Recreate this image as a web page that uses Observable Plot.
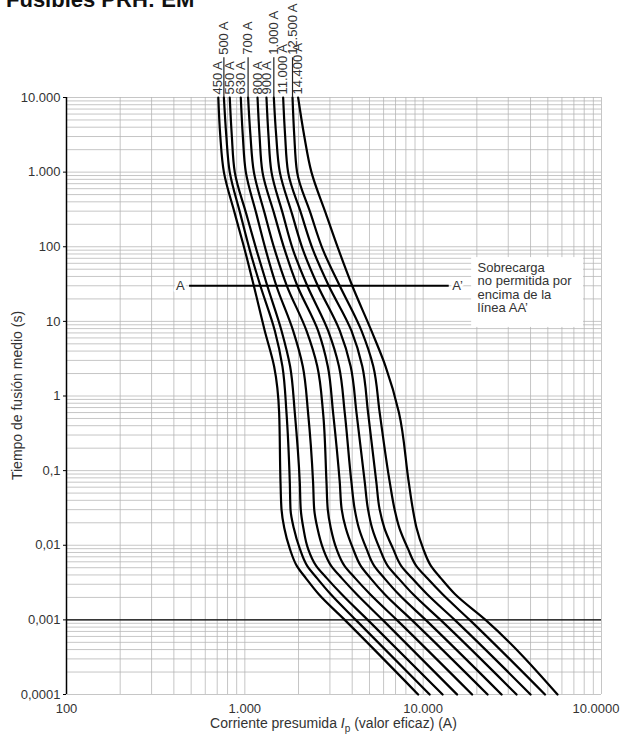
<!DOCTYPE html>
<html><head><meta charset="utf-8">
<script src="https://cdn.jsdelivr.net/npm/d3@7"></script>
<script src="https://cdn.jsdelivr.net/npm/@observablehq/plot@0.6"></script>
<style>
body{margin:0;background:#fff;}
#chart{width:620px;height:740px;overflow:hidden;}
</style></head><body><div id="chart"></div>
<script>
// ---- data ----
const chartTitle = "Fusibles PRH: EM";
const fuseLabels = ["450 A","500 A","550 A","630 A","700 A","800 A","900 A","1.000 A","11.000 A","12.500 A","14.400 A"];
const raisedLabels = ["500 A","700 A","1.000 A","12.500 A"];
// melting times (s) at which the currents below were read
const times = [10000, 3100, 1000, 280, 90, 30, 7.5, 2.5, 0.6, 0.07, 0.03, 0.017, 0.009, 0.0053, 0.0036, 0.0022, 0.001, 0.0001];
// prospective current (A) of each curve at those times
const c450  = [710, 728, 763, 878, 1000, 1123, 1293, 1459, 1557, 1585, 1606, 1664, 1787, 1956, 2203, 2598, 3631, 9377];
const c500  = [763, 787, 823, 942, 1066, 1222, 1473, 1625, 1712, 1787, 1804, 1881, 2033, 2237, 2545, 3033, 4188, 10876];
const c550  = [823, 845, 878, 1017, 1163, 1336, 1606, 1794, 1906, 2033, 2059, 2129, 2262, 2512, 2888, 3494, 4887, 12851];
const c630  = [949, 974, 1013, 1159, 1311, 1502, 1865, 2113, 2262, 2414, 2450, 2552, 2746, 3049, 3504, 4240, 5927, 15497];
const c700  = [1043, 1075, 1124, 1292, 1473, 1720, 2216, 2548, 2746, 2870, 2918, 3033, 3262, 3622, 4165, 5045, 7107, 18815];
const c800  = [1178, 1209, 1256, 1459, 1675, 1969, 2574, 2918, 3125, 3406, 3494, 3680, 4043, 4467, 5077, 6084, 8618, 22972];
const c900  = [1322, 1357, 1411, 1631, 1865, 2239, 2930, 3371, 3632, 3960, 4135, 4358, 4806, 5314, 6067, 7293, 10328, 27530];
const c1000 = [1454, 1499, 1571, 1836, 2121, 2566, 3406, 3919, 4227, 4704, 4909, 5170, 5703, 6326, 7273, 8785, 12508, 33395];
const c1100 = [1640, 1682, 1748, 2067, 2414, 2955, 3960, 4555, 4909, 5463, 5703, 6062, 6777, 7527, 8674, 10530, 15015, 40018];
const c1250 = [1851, 1893, 1963, 2337, 2746, 3404, 4508, 5250, 5703, 6495, 6920, 7359, 8215, 9146, 10557, 12851, 18227, 48200];
const c1440 = [1990, 2151, 2363, 2844, 3362, 4002, 5124, 6152, 7311, 8300, 8761, 9183, 10000, 11053, 12589, 15108, 22360, 56673];

const yTicks = [0.0001, 0.001, 0.01, 0.1, 1, 10, 100, 1000, 10000];
const yTickLabels = ["0,0001","0,001","0,01","0,1","1","10","100","1.000","10.000"];
const xTicks = [100, 1000, 10000, 100000];
const xTickLabels = ["100","1.000","10.000","10.0000"];
const yTitle = "Tiempo de fusión medio (s)";
const xTitleParts = ["Corriente presumida ", "I", "p", " (valor eficaz) (A)"];

// AA' overload line and note
const aaLine = {t: 30, from: 490, to: 14000};
const limitTime = 0.001;
const noteText = "Sobrecarga\nno permitida por\nencima de la\nlínea AA’";
const noteAnchor = {x: 20200, t: 62};
const noteBox = {x1: 18700, x2: 79300, t1: 8.3, t2: 71.6};
const labelBaseTime = 10000, raisedLabelTime = 34000;

// ---- build ----
const series = [c450, c500, c550, c630, c700, c800, c900, c1000, c1100, c1250, c1440];
const rows = series.flatMap((arr, k) => arr.map((I, i) => ({fuse: fuseLabels[k], I, t: times[i]})));
const labels = fuseLabels.map((f, k) => ({f, I: series[k][0], raised: raisedLabels.includes(f)}));

const decadesX = [100, 1000, 10000];
const decadesY = [0.0001, 0.001, 0.01, 0.1, 1, 10, 100, 1000];
const mult = [1,2,3,4,5,6,7,8,9];
const xGrid = decadesX.flatMap(d => mult.map(m => m * d)).concat([100000]);
const yGrid = decadesY.flatMap(d => mult.map(m => +(m * d).toPrecision(3))).concat([10000]);

const yMap = new Map(yTicks.map((v, i) => [v, yTickLabels[i]]));
const xMap = new Map(xTicks.map((v, i) => [v, xTickLabels[i]]));
const lastX = xTicks[xTicks.length - 1];
const font = "'Liberation Sans', Arial, Helvetica, sans-serif";
const ink = "#333";

const plot = Plot.plot({
  width: 620, height: 740,
  marginLeft: 66, marginRight: 19, marginTop: 97, marginBottom: 46,
  style: {fontFamily: font, fontSize: "13px", color: ink, background: "white", overflow: "visible"},
  x: {type: "log", domain: [100, 100000]},
  y: {type: "log", domain: [0.0001, 10000]},
  marks: [
    Plot.ruleX(xGrid, {stroke: "#b3b3b3", strokeWidth: 0.75}),
    Plot.ruleY(yGrid, {stroke: "#b3b3b3", strokeWidth: 0.75}),
    Plot.rect([noteBox], {x1: "x1", x2: "x2", y1: "t1", y2: "t2", fill: "white"}),
    Plot.text([noteAnchor], {x: "x", y: "t", text: () => noteText, textAnchor: "start", lineAnchor: "top", lineHeight: 1.04, fontSize: 13, fill: ink}),
    Plot.ruleX([100], {stroke: "black", strokeWidth: 1.5}),
    Plot.ruleY([limitTime], {stroke: "black", strokeWidth: 1.3}),
    Plot.line(rows, {x: "I", y: "t", z: "fuse", stroke: "black", strokeWidth: 2.2, curve: "monotone-y"}),
    Plot.ruleY([aaLine], {y: "t", x1: "from", x2: "to", stroke: "black", strokeWidth: 2}),
    Plot.text([aaLine], {x: "from", y: "t", text: () => "A", textAnchor: "end", dx: -5, fontSize: 13, fill: ink, stroke: "white", strokeWidth: 5}),
    Plot.text([aaLine], {x: "to", y: "t", text: () => "A’", textAnchor: "start", dx: 3, fontSize: 13, fill: ink, stroke: "white", strokeWidth: 5}),
    Plot.ruleX(labels.filter(d => d.raised), {x: "I", y1: labelBaseTime, y2: raisedLabelTime, stroke: "#222", strokeWidth: 1.2}),
    Plot.text(labels, {x: "I", y: d => d.raised ? raisedLabelTime : labelBaseTime, text: "f", rotate: -90, textAnchor: "start", fontSize: 13, fill: ink, dy: -3}),
    Plot.axisY(yTicks, {tickFormat: d => yMap.get(d), tickSize: 3, tickPadding: 3, fontSize: 13, label: null, stroke: "black"}),
    Plot.axisX(xTicks.slice(0, -1), {tickFormat: d => xMap.get(d), tickSize: 0, tickPadding: 9, fontSize: 13, label: null}),
    Plot.text([lastX], {x: d => d, frameAnchor: "bottom", text: d => xMap.get(d), textAnchor: "end", lineAnchor: "top", dx: 18, dy: 9, fontSize: 13, fill: ink})
  ]
});

const svg = d3.select(plot);
const xr = plot.scale("x").range, yr = plot.scale("y").range;
svg.append("text").attr("x", 6).attr("y", 7).attr("text-anchor", "start")
  .attr("font-family", font).attr("font-weight", "bold").attr("font-size", 22).attr("fill", "#111")
  .text(chartTitle);
const xt = svg.append("text").attr("x", (xr[0] + xr[1]) / 2).attr("y", 728)
  .attr("text-anchor", "middle").attr("font-family", font).attr("font-size", 14).attr("fill", ink);
xt.append("tspan").text(xTitleParts[0]);
xt.append("tspan").attr("font-style", "italic").text(xTitleParts[1]);
xt.append("tspan").attr("font-size", 10).attr("dy", 4).text(xTitleParts[2]);
xt.append("tspan").attr("dy", -4).text(xTitleParts[3]);
svg.append("text")
  .attr("transform", `translate(22,${(yr[0] + yr[1]) / 2}) rotate(-90)`)
  .attr("text-anchor", "middle").attr("font-family", font).attr("font-size", 14).attr("fill", ink)
  .text(yTitle);

document.getElementById("chart").appendChild(plot);
</script></body></html>
